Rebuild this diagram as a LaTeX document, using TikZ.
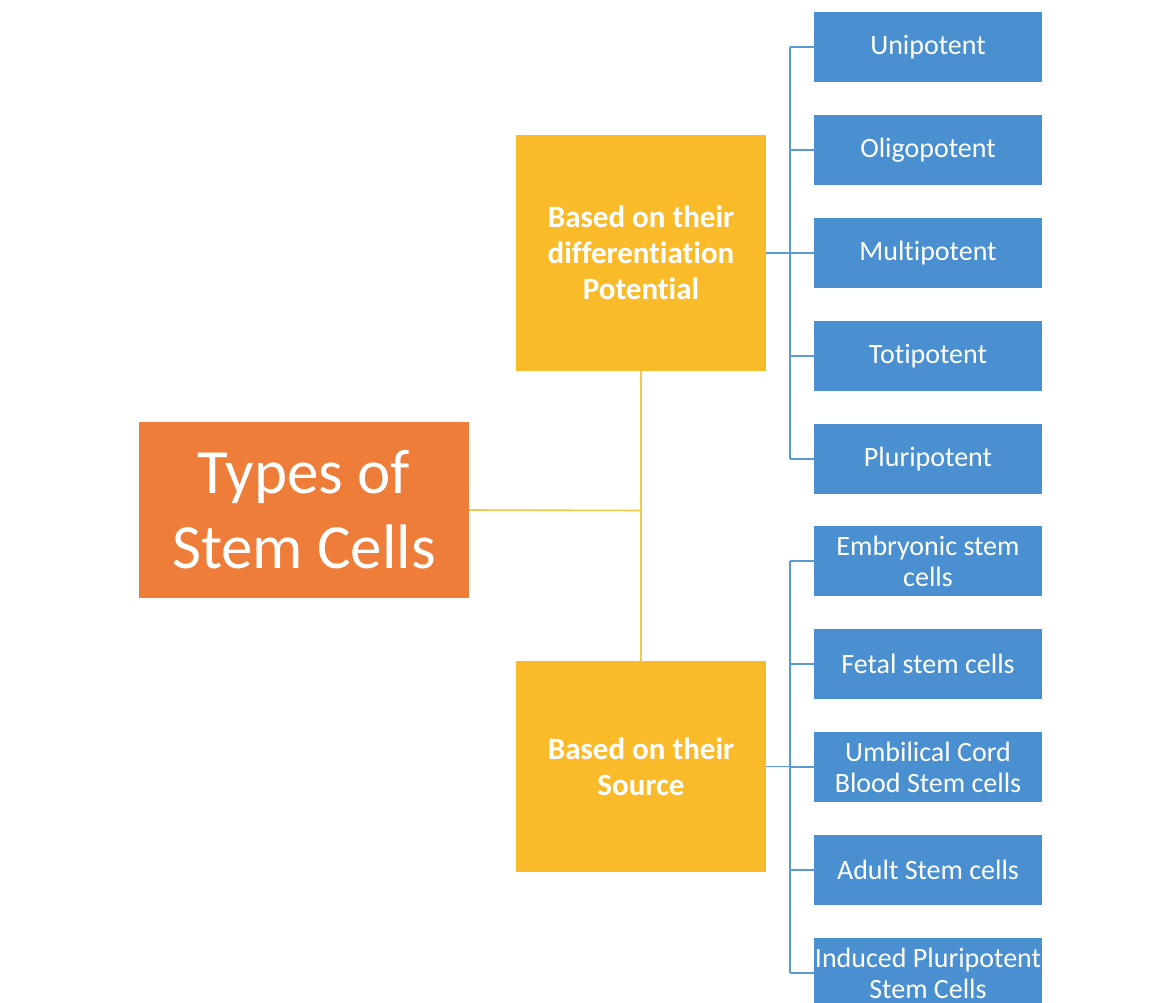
\documentclass[tikz,border=0pt]{standalone}
\usepackage{fontspec}
\setmainfont{Carlito}[Ligatures=NoCommon]
\usetikzlibrary{calc}
\definecolor{RootFill}{HTML}{EF7D3A}
\definecolor{GroupFill}{HTML}{F9BB2A}
\definecolor{LeafFill}{HTML}{4A90D0}
\definecolor{GroupLine}{HTML}{F2C94C}
\definecolor{LeafLine}{HTML}{5B9BD5}
\tikzset{
  rootbox/.style={fill=RootFill,text=white,minimum width=330,minimum height=176,
    inner sep=0pt,align=center,font=\fontsize{63}{75}\selectfont},
  groupbox/.style={fill=GroupFill,text=white,minimum width=250,inner sep=0pt,
    align=center,font=\fontsize{31}{36}\selectfont\bfseries},
  leafbox/.style={fill=LeafFill,text=white,minimum width=228,minimum height=70,
    inner sep=0pt,align=center,font=\fontsize{28}{31}\selectfont},
  grouplink/.style={GroupLine,line width=1.6pt},
  leaflink/.style={LeafLine,line width=1.6pt}
}

\begin{document}
\begin{tikzpicture}[x=1pt,y=-1pt]
  \useasboundingbox (0,0) rectangle (1165,1003);

  % Root and the two groupings.
  \node[rootbox] (types) at (304,510) {Types of\\Stem Cells};
  \node[groupbox,minimum height=236] (potential) at (641,253)
    {Based on their\\differentiation\\Potential};
  \node[groupbox,minimum height=211] (source) at (641,766.5)
    {Based on their\\Source};

  % Leaves by potential.
  \node[leafbox] (uni)   at (928,47)  {Unipotent};
  \node[leafbox] (oligo) at (928,150) {Oligopotent};
  \node[leafbox] (multi) at (928,253) {Multipotent};
  \node[leafbox] (toti)  at (928,356) {Totipotent};
  \node[leafbox] (pluri) at (928,459) {Pluripotent};

  % Leaves by source.
  \node[leafbox] (embryo)   at (928,561) {Embryonic stem\\cells};
  \node[leafbox] (fetal)    at (928,664) {Fetal stem cells};
  \node[leafbox] (cord)     at (928,767) {Umbilical Cord\\Blood Stem cells};
  \node[leafbox] (adult)    at (928,870) {Adult Stem cells};
  \node[leafbox] (induced)  at (928,973) {Induced Pluripotent\\Stem Cells};

  % Yellow trunk.
  \coordinate (trunk) at ($(potential.south)!0.481!(source.north)$);
  \draw[grouplink] (potential.south) -- (source.north);
  \draw[grouplink] (types.east) -- (trunk);

  % Blue brackets.
  \draw[leaflink] (potential.east) -- ++(24,0);
  \foreach \leaf in {uni,oligo,multi,toti,pluri}
    \draw[leaflink] (\leaf.west) -- ++(-24,0);
  \draw[leaflink] ($(uni.west)+(-24,0)$) -- ($(pluri.west)+(-24,0)$);

  \draw[leaflink] (source.east) -- ++(24,0);
  \foreach \leaf in {embryo,fetal,cord,adult,induced}
    \draw[leaflink] (\leaf.west) -- ++(-24,0);
  \draw[leaflink] ($(embryo.west)+(-24,0)$) -- ($(induced.west)+(-24,0)$);
\end{tikzpicture}
\end{document}
